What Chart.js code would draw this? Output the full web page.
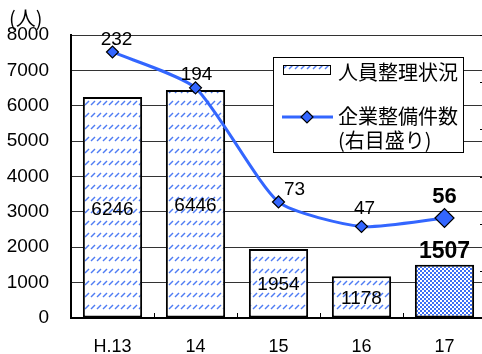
<!DOCTYPE html>
<html>
<head>
<meta charset="utf-8">
<script src="https://cdn.jsdelivr.net/npm/chart.js@4/dist/chart.umd.min.js"></script>
<style>
  html, body { margin: 0; padding: 0; background: #fff; overflow: hidden; }
  #wrap { width: 482px; height: 354px; overflow: hidden; }
  canvas { display: block; }
</style>
</head>
<body>
<div id="wrap"><canvas id="c" width="486" height="354"></canvas></div>
<script>
// Fiscal years (Heisei)
const years = ['H.13', '14', '15', '16', '17'];
// Staff reductions (persons) - left axis
const staffCuts = [6246, 6446, 1954, 1178, 1507];
// Number of corporate restructurings - right axis
const firmCounts = [232, 194, 73, 47, 56];
// Axis ranges
const leftMin = 0, leftMax = 8000, leftStep = 1000;
const rightMin = -50, rightMax = 250, rightStep = 50;

const NUM_FONT = '"Liberation Sans", Arial, sans-serif';
const JP_FONT = '"Noto Sans CJK JP", "Noto Sans", sans-serif';
const LINE_BLUE = '#3366ff';

// Light blue diagonal hatch
function makeHatch() {
  const t = document.createElement('canvas');
  t.width = 6; t.height = 12;
  const g = t.getContext('2d');
  g.fillStyle = '#fff';
  g.fillRect(0, 0, 6, 12);
  g.strokeStyle = '#4f7cf4';
  g.lineWidth = 1.4;
  g.beginPath();
  g.moveTo(1, 9);
  g.lineTo(5, 5);
  g.stroke();
  return g.createPattern(t, 'repeat');
}
// Blue/white checker for the latest year
function makeChecker() {
  const t = document.createElement('canvas');
  t.width = 4; t.height = 4;
  const g = t.getContext('2d');
  g.fillStyle = '#3d6ff5';
  g.fillRect(0, 0, 4, 4);
  g.fillStyle = '#fff';
  g.fillRect(0, 0, 2, 2);
  g.fillRect(2, 2, 2, 2);
  return g.createPattern(t, 'repeat');
}
const hatch = makeHatch();
const checker = makeChecker();
const barFills = staffCuts.map((_, i) => i === staffCuts.length - 1 ? checker : hatch);

// Label nudges for the line values (x, y offsets from the point)
const lineLabelNudge = [[4, -12], [1, -13], [16, -12], [3, -18], [0, -21]];

const labelsPlugin = {
  id: 'valueLabels',
  afterDatasetsDraw(chart) {
    const ctx = chart.ctx;
    ctx.save();
    ctx.fillStyle = '#000';
    ctx.textAlign = 'center';
    ctx.textBaseline = 'middle';
    const last = staffCuts.length - 1;
    chart.getDatasetMeta(1).data.forEach((el, i) => {
      if (i === last) {
        ctx.font = 'bold 23px ' + NUM_FONT;
        ctx.fillText(String(staffCuts[i]), el.x, el.y - 13);
      } else {
        ctx.font = '19px ' + NUM_FONT;
        ctx.fillText(String(staffCuts[i]), el.x, (el.y + el.base) / 2 + 2);
      }
    });
    chart.getDatasetMeta(0).data.forEach((el, i) => {
      const [dx, dy] = lineLabelNudge[i];
      ctx.font = (i === last ? 'bold 22px ' : '19px ') + NUM_FONT;
      ctx.fillText(String(firmCounts[i]), el.x + dx, el.y + dy);
    });
    ctx.restore();
  }
};

const framePlugin = {
  id: 'frameExtras',
  afterDraw(chart) {
    const ctx = chart.ctx;
    const a = chart.chartArea;
    const y1 = chart.scales.y1;
    ctx.save();
    ctx.strokeStyle = '#000';
    ctx.lineWidth = 1;
    // inner ticks between categories
    ctx.beginPath();
    for (let i = 1; i <= years.length; i++) {
      const px = Math.round(a.left + (a.right - a.left) * i / years.length) + 0.5;
      ctx.moveTo(px, a.bottom);
      ctx.lineTo(px, a.bottom - 5);
    }
    // inner ticks of the secondary axis
    for (let v = rightMin; v <= rightMax; v += rightStep) {
      const py = Math.round(y1.getPixelForValue(v)) + 0.5;
      ctx.moveTo(a.right, py);
      ctx.lineTo(a.right - 6, py);
    }
    ctx.stroke();

    // unit label
    ctx.fillStyle = '#000';
    ctx.font = '20px ' + JP_FONT;
    ctx.textAlign = 'left';
    ctx.textBaseline = 'middle';
    ctx.fillText('(人)', 9, 18);

    // legend box
    const L = 273, T = 57, R = 463, B = 152;
    ctx.fillStyle = '#fff';
    ctx.fillRect(L, T, R - L, B - T);
    ctx.strokeStyle = '#000';
    ctx.lineWidth = 1;
    ctx.strokeRect(L + 0.5, T + 0.5, R - L, B - T);
    // bar swatch
    ctx.fillStyle = hatch;
    ctx.fillRect(283, 65, 48, 10);
    ctx.strokeRect(283.5, 65.5, 47, 9);
    // line swatch
    ctx.strokeStyle = LINE_BLUE;
    ctx.lineWidth = 3;
    ctx.beginPath();
    ctx.moveTo(282, 117);
    ctx.lineTo(333, 117);
    ctx.stroke();
    ctx.fillStyle = LINE_BLUE;
    ctx.strokeStyle = '#000';
    ctx.lineWidth = 1.2;
    ctx.beginPath();
    ctx.moveTo(307, 111); ctx.lineTo(313, 117); ctx.lineTo(307, 123); ctx.lineTo(301, 117);
    ctx.closePath();
    ctx.fill(); ctx.stroke();
    // legend texts
    ctx.fillStyle = '#000';
    ctx.font = '20px ' + JP_FONT;
    ctx.fillText('人員整理状況', 338, 72);
    ctx.fillText('企業整備件数', 338, 116);
    ctx.fillText('(右目盛り)', 338, 140);
    ctx.restore();
  }
};

new Chart(document.getElementById('c'), {
  type: 'bar',
  data: {
    labels: years,
    datasets: [
      {
        type: 'line',
        label: '企業整備件数',
        data: firmCounts,
        yAxisID: 'y1',
        order: 0,
        borderColor: LINE_BLUE,
        borderWidth: 3,
        tension: 0.2,
        pointStyle: 'rectRot',
        pointRadius: [6, 6, 6, 6, 9.5],
        pointBackgroundColor: LINE_BLUE,
        pointBorderColor: '#000',
        pointBorderWidth: 1.2
      },
      {
        type: 'bar',
        label: '人員整理状況',
        data: staffCuts,
        yAxisID: 'y',
        order: 1,
        backgroundColor: barFills,
        borderColor: '#000',
        borderWidth: 2,
        borderSkipped: false,
        categoryPercentage: 1,
        barPercentage: 0.714
      }
    ]
  },
  options: {
    responsive: false,
    animation: false,
    devicePixelRatio: 1,
    layout: { autoPadding: false, padding: { top: 35, right: 0, left: 0, bottom: 0 } },
    plugins: { legend: { display: false }, tooltip: { enabled: false } },
    scales: {
      x: {
        offset: true,
        grid: { display: false, drawTicks: false },
        border: { color: '#000', width: 2 },
        ticks: { color: '#000', font: { family: NUM_FONT, size: 18 }, padding: 18 },
        afterFit(s) { s.height = 36; s.paddingLeft = 0; s.paddingRight = 0; }
      },
      y: {
        position: 'left',
        min: leftMin, max: leftMax,
        ticks: {
          stepSize: leftStep, color: '#000', padding: 22,
          font: { family: NUM_FONT, size: 19 },
          callback: v => String(v)
        },
        grid: { color: '#333', lineWidth: 1, drawTicks: false },
        border: { color: '#000', width: 2 },
        afterFit(s) { s.width = 71; s.paddingTop = 0; s.paddingBottom = 0; }
      },
      y1: {
        position: 'right',
        display: false,
        min: rightMin, max: rightMax,
        ticks: { stepSize: rightStep },
        grid: { drawOnChartArea: false }
      }
    }
  },
  plugins: [labelsPlugin, framePlugin]
});
</script>
</body>
</html>
